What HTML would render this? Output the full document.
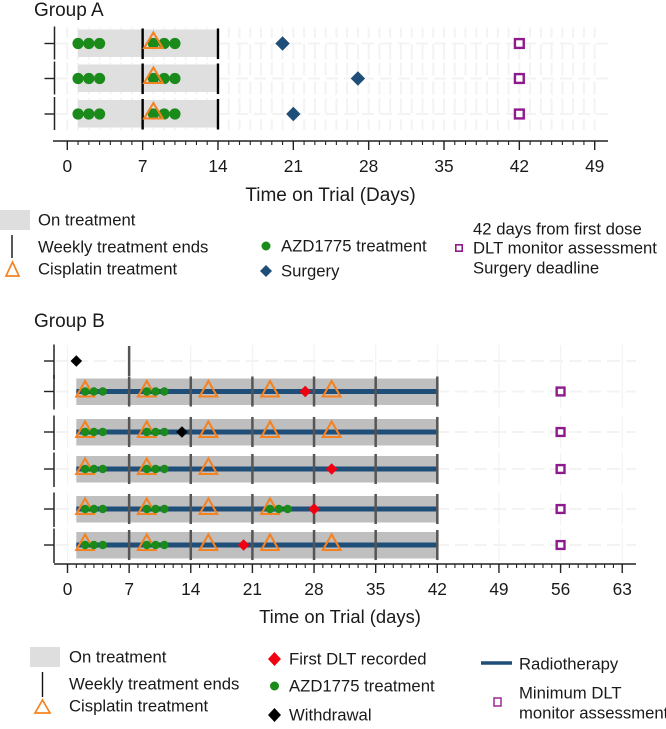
<!DOCTYPE html>
<html>
<head>
<meta charset="utf-8">
<title>Trial timeline chart</title>
<style>
html,body{margin:0;padding:0;background:#fff;width:666px;height:729px;overflow:hidden}
svg{display:block}
text{font-family:"Liberation Sans",Arial,sans-serif;fill:#1a1a1a}
.leg{font-size:16.7px;dominant-baseline:central}
</style>
</head>
<body>
<svg id="chart" xmlns="http://www.w3.org/2000/svg" width="666" height="729" viewBox="0 0 666 729">
  <text x="34" y="16" font-size="19">Group A</text>
  <text x="34" y="327" font-size="19">Group B</text>
  <text x="330.5" y="201" font-size="19" text-anchor="middle">Time on Trial (Days)</text>
  <text x="340" y="623" font-size="18.4" text-anchor="middle">Time on Trial (days)</text>
  <g id="plotA"></g>
  <g id="plotB"></g>

  <g>
    <rect x="0" y="210" width="30" height="20" fill="#dedede"/>
    <text class="leg" x="38" y="220">On treatment</text>
    <line x1="12" x2="12" y1="235" y2="258" stroke="#111" stroke-width="1.4"/>
    <text class="leg" x="38" y="247">Weekly treatment ends</text>
    <path d="M12.5 262 L19 276 L6 276 Z" fill="none" stroke="#f58220" stroke-width="1.7"/>
    <text class="leg" x="38" y="269">Cisplatin treatment</text>
    <circle cx="266" cy="246" r="4.5" fill="#1a8a1a"/>
    <text class="leg" x="281" y="246">AZD1775 treatment</text>
    <path d="M266 265 L272 271 L266 277 L260 271 Z" fill="#1f4e79"/>
    <text class="leg" x="281" y="271">Surgery</text>
    <rect x="455.8" y="244.8" width="6.4" height="6.4" fill="none" stroke="#8e1a8e" stroke-width="1.6"/>
    <text class="leg" x="473" y="229">42 days from first dose</text>
    <text class="leg" x="473" y="248">DLT monitor assessment</text>
    <text class="leg" x="473" y="268">Surgery deadline</text>
  </g>

  <g>
    <rect x="30" y="647" width="30" height="20" fill="#dedede"/>
    <text class="leg" x="69" y="657">On treatment</text>
    <line x1="42.5" x2="42.5" y1="672" y2="697" stroke="#111" stroke-width="1.4"/>
    <text class="leg" x="69" y="684">Weekly treatment ends</text>
    <path d="M42.5 700 L50 713 L35 713 Z" fill="none" stroke="#f58220" stroke-width="1.7"/>
    <text class="leg" x="69" y="706">Cisplatin treatment</text>
    <path d="M274.5 652 L281 659 L274.5 666 L268 659 Z" fill="#f00010"/>
    <text class="leg" x="289" y="659">First DLT recorded</text>
    <circle cx="274.5" cy="686" r="4.5" fill="#1a8a1a"/>
    <text class="leg" x="289" y="686">AZD1775 treatment</text>
    <path d="M274.5 708 L281 715 L274.5 722 L268 715 Z" fill="#000"/>
    <text class="leg" x="289" y="715">Withdrawal</text>
    <line x1="481" x2="512" y1="663" y2="663" stroke="#1f4e79" stroke-width="3.4"/>
    <text class="leg" x="519" y="664">Radiotherapy</text>
    <rect x="494" y="698" width="7" height="8" fill="none" stroke="#a0369a" stroke-width="1.6"/>
    <text class="leg" x="519" y="693">Minimum DLT</text>
    <text class="leg" x="519" y="713">monitor assessment</text>
  </g>
</svg>
<script>
// ---- Group A data (days on trial) ----
const aTickLabels = [0, 7, 14, 21, 28, 35, 42, 49];
const aRowLevels = [7.05, 3.55, 0];
const aTreatStart = [1, 1, 1];
const aTreatEnd = [14, 14, 14];
const aWeekly = [[7, 14], [7, 14], [7, 14]];
const aAzd = [[1, 2, 3, 8, 9, 10], [1, 2, 3, 8, 9, 10], [1, 2, 3, 8, 9, 10]];
const aCisplatin = [[8], [8], [8]];
const aSurgery = [20, 27, 21];
const aMonitor = [42, 42, 42];

// ---- Group B data (days on trial) ----
const bTickLabels = [0, 7, 14, 21, 28, 35, 42, 49, 56, 63];
const bRowLevels = [18.4, 15.35, 11.3, 7.6, 3.6, 0];
const bTreatStart = [null, 1, 1, 1, 1, 1];
const bTreatEnd = [null, 42, 42, 42, 42, 42];
const bWeekly = [[7], [7, 14, 21, 28, 35, 42], [7, 14, 21, 28, 35, 42], [7, 14, 21, 28, 35, 42], [7, 14, 21, 28, 35, 42], [7, 14, 21, 28, 35, 42]];
const bAzd = [[], [2, 3, 4, 9, 10, 11], [2, 3, 4, 9, 10, 11], [2, 3, 4, 9, 10, 11], [2, 3, 4, 9, 10, 11, 23, 24, 25], [2, 3, 4, 9, 10, 11]];
const bCisplatin = [[], [2, 9, 16, 23, 30], [2, 9, 16, 23, 30], [2, 9, 16], [2, 9, 16, 23], [2, 9, 16, 23, 30]];
const bFirstDlt = [null, 27, null, 30, 28, 20];
const bWithdrawal = [1, null, 13, null, null, null];
const bMonitor = [null, 56, 56, 56, 56, 56];

const NS = 'http://www.w3.org/2000/svg';
function mk(parent, tag, props) {
  const el = document.createElementNS(NS, tag);
  for (const k in props) el.setAttribute(k, props[k]);
  parent.appendChild(el);
  return el;
}

// Axis functions
const xA = d => 67.3 + d * 10.763;
const yA = v => 114 - v * 10;
const xB = d => 67.5 + d * 8.805;
const yB = v => 545 - v * 10;

const GRID = '#f3f3f3';
const plotA = document.getElementById('plotA');
const plotB = document.getElementById('plotB');

function axis(g, x, tickLabels, axisY, x0, x1, prefix) {
  const line = mk(g, 'line', {x1: x0, x2: x1, y1: axisY, y2: axisY, stroke: '#222', 'stroke-width': 1.5});
  
  
  const maxDay = tickLabels[tickLabels.length - 1];
  for (let d = 0; d <= maxDay; d++) {
    const minor = mk(g, 'line', {x1: x(d), x2: x(d), y1: axisY, y2: axisY + 4, stroke: '#222', 'stroke-width': 1.1});
    
    
  }
  tickLabels.forEach(t => {
    const major = mk(g, 'line', {x1: x(t), x2: x(t), y1: axisY, y2: axisY + 9, stroke: '#222', 'stroke-width': 1.4});
    
    
    const label = mk(g, 'text', {x: x(t), y: axisY + 31, 'font-size': 17.3, 'text-anchor': 'middle'});
    label.textContent = t;
    
    
  });
}

function yAxisPiece(g, x, y, up, down, prefix) {
  const seg = mk(g, 'line', {x1: x, x2: x, y1: y - up, y2: y + down, stroke: '#222', 'stroke-width': 1.5});
  
  
  const tick = mk(g, 'line', {x1: x - 10, x2: x, y1: y, y2: y, stroke: '#222', 'stroke-width': 1.4});
  
  
}

function triangle(g, cx, y, halfW, up, down, name) {
  const t = mk(g, 'path', {d: `M${cx} ${y - up} L${cx + halfW} ${y + down} L${cx - halfW} ${y + down} Z`, fill: 'none', stroke: '#f58220', 'stroke-width': 2.1});
  
  
}

function diamond(g, cx, y, r, fill, name) {
  const t = mk(g, 'path', {d: `M${cx} ${y - r} L${cx + r} ${y} L${cx} ${y + r} L${cx - r} ${y} Z`, fill: fill});
  
  
}

function monitorSquare(g, cx, y, half, sw, name) {
  const s = mk(g, 'rect', {x: cx - half, y: y - half, width: half * 2, height: half * 2, fill: '#fff', stroke: '#8e1a8e', 'stroke-width': sw});
  
  
}

// ---- Group A ----
aRowLevels.forEach((lv, i) => {
  const y = yA(lv);
  const hg = mk(plotA, 'line', {x1: 56, x2: 608, y1: y, y2: y, stroke: GRID, 'stroke-width': 2, 'stroke-dasharray': '12 6'});
  
  
  const gapC = y + (i - 1) * 2.5;
  for (let d = 0; d <= 49; d++) {
    const v1 = mk(plotA, 'line', {x1: xA(d), x2: xA(d), y1: y - 16, y2: gapC - 3, stroke: GRID, 'stroke-width': 2});
    
    
    const v2 = mk(plotA, 'line', {x1: xA(d), x2: xA(d), y1: gapC + 3, y2: y + 16, stroke: GRID, 'stroke-width': 2});
    
    
  }
});
aRowLevels.forEach((lv, i) => {
  const y = yA(lv);
  yAxisPiece(plotA, 54.5, y, 17, 16, 'group-a');
  const band = mk(plotA, 'rect', {x: xA(aTreatStart[i]), y: y - 14, width: xA(aTreatEnd[i]) - xA(aTreatStart[i]), height: 27.5, fill: '#dfdfdf'});
  
  
  aAzd[i].forEach(d => {
    const c = mk(plotA, 'circle', {cx: xA(d), cy: y, r: 5.6, fill: '#1a8a1a'});
    
    
  });
  aWeekly[i].forEach(d => {
    const w = mk(plotA, 'line', {x1: xA(d), x2: xA(d), y1: y - 15, y2: y + 15.5, stroke: '#000', 'stroke-width': 2.4});
    
    
  });
  aCisplatin[i].forEach(d => triangle(plotA, xA(d), y, 9.3, 11, 4.5, 'group-a-cisplatin-dose'));
  diamond(plotA, xA(aSurgery[i]), y, 7.2, '#1f4e79', 'group-a-surgery');
  monitorSquare(plotA, xA(aMonitor[i]), y, 4.4, 2.4, 'group-a-dlt-assessment');
});
axis(plotA, xA, aTickLabels, 141, 53, 608, 'group-a');

// ---- Group B ----
bRowLevels.forEach((lv, i) => {
  const y = yB(lv);
  const hg = mk(plotB, 'line', {x1: 56, x2: 636, y1: y, y2: y, stroke: GRID, 'stroke-width': 2, 'stroke-dasharray': '13 6'});
  
  
  bTickLabels.forEach(d => {
    const v = mk(plotB, 'line', {x1: xB(d), x2: xB(d), y1: y - 16, y2: y + 16, stroke: GRID, 'stroke-width': 1.3});
    
    
  });
});
bRowLevels.forEach((lv, i) => {
  const y = yB(lv);
  yAxisPiece(plotB, 54, y, 16.5, 18, 'group-b');
  if (bTreatStart[i] !== null) {
    const band = mk(plotB, 'rect', {x: xB(bTreatStart[i]), y: y - 13, width: xB(bTreatEnd[i]) - xB(bTreatStart[i]), height: 26.5, fill: '#bfbfbf'});
    
    
    const rt = mk(plotB, 'line', {x1: xB(bTreatStart[i]), x2: xB(bTreatEnd[i]), y1: y, y2: y, stroke: '#1f4e79', 'stroke-width': 5});
    
    
  }
  bWeekly[i].forEach(d => {
    const w = mk(plotB, 'line', {x1: xB(d), x2: xB(d), y1: y - 15, y2: y + 15, stroke: '#555', 'stroke-width': 2.5});
    
    
  });
  bCisplatin[i].forEach(d => triangle(plotB, xB(d), y, 8.8, 10.5, 5, 'group-b-cisplatin-dose'));
  bAzd[i].forEach(d => {
    const c = mk(plotB, 'circle', {cx: xB(d), cy: y, r: 4.2, fill: '#1a8a1a'});
    
    
  });
  if (bFirstDlt[i] !== null) diamond(plotB, xB(bFirstDlt[i]), y, 5.8, '#f00010', 'group-b-first-dlt');
  if (bWithdrawal[i] !== null) diamond(plotB, xB(bWithdrawal[i]), y, 5.8, '#000', 'group-b-withdrawal');
  if (bMonitor[i] !== null) monitorSquare(plotB, xB(bMonitor[i]), y, 3.9, 2.4, 'group-b-dlt-assessment');
});
axis(plotB, xB, bTickLabels, 564, 54, 636, 'group-b');
</script>
</body>
</html>
